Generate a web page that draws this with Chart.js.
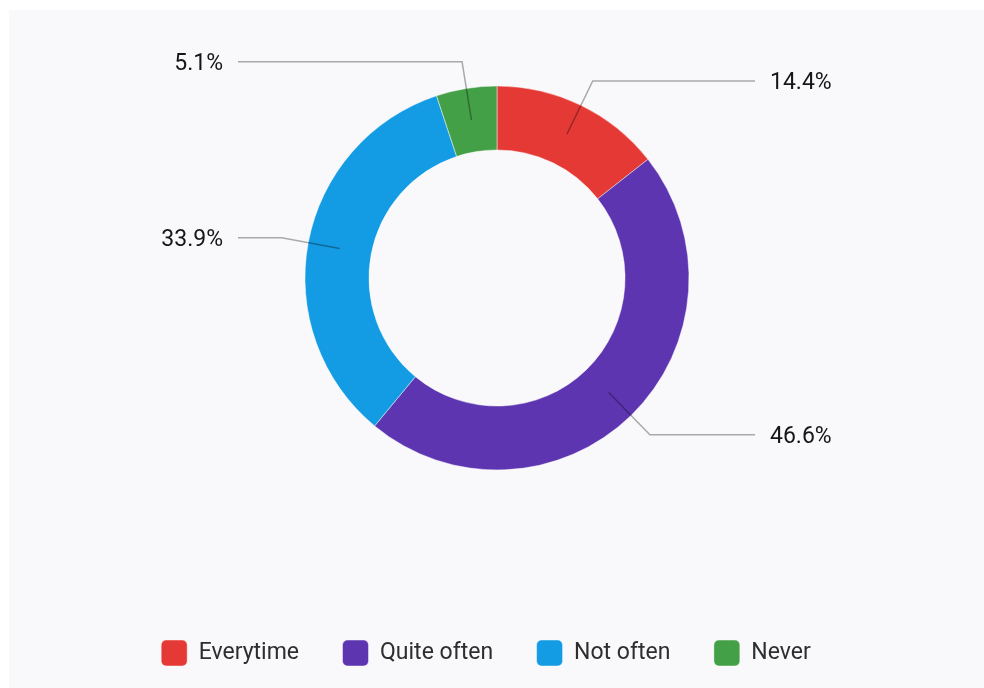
<!DOCTYPE html>
<html>
<head>
<meta charset="utf-8">
<script src="https://cdn.jsdelivr.net/npm/chart.js@4.4.1/dist/chart.umd.min.js"></script>
<style>
  html, body { margin: 0; padding: 0; background: #ffffff; width: 984px; height: 688px; overflow: hidden; }
  #card { position: absolute; left: 9px; top: 10px; width: 975px; height: 678px; background: #f9f9fc; }
  #wrap { position: absolute; left: 0; top: 0; width: 984px; height: 688px; }
</style>
</head>
<body>
<div id="card"></div>
<div id="wrap"><canvas id="c" width="984" height="688"></canvas></div>
<script>
const categories = ['Everytime', 'Quite often', 'Not often', 'Never'];
const values = [14.4, 46.6, 33.9, 5.1];
const colors = ['#e53935', '#5e35b1', '#139be4', '#43a047'];

const total = values.reduce((a, b) => a + b, 0);
const pctLabels = values.map(v => (v / total * 100).toFixed(1) + '%');

const leaderPlugin = {
  id: 'leaders',
  afterDatasetsDraw(chart) {
    const ctx = chart.ctx;
    const meta = chart.getDatasetMeta(0);
    ctx.save();
    meta.data.forEach((arc, i) => {
      const p = arc.getProps(['x', 'y', 'startAngle', 'endAngle', 'innerRadius', 'outerRadius'], true);
      const mid = (p.startAngle + p.endAngle) / 2;
      const rIn = (p.innerRadius + p.outerRadius) / 2;
      const rOut = p.outerRadius + 27;
      const x1 = p.x + Math.cos(mid) * rIn, y1 = p.y + Math.sin(mid) * rIn;
      const x2 = p.x + Math.cos(mid) * rOut, y2 = p.y + Math.sin(mid) * rOut;
      const right = Math.cos(mid) >= 0;
      const x3 = p.x + (right ? 258 : -259);
      ctx.beginPath();
      ctx.moveTo(x1, y1);
      ctx.lineTo(x2, y2);
      ctx.lineTo(x3, y2);
      ctx.strokeStyle = 'rgba(0,0,0,0.32)';
      ctx.lineWidth = 1.5;
      ctx.stroke();
      ctx.font = '23px Roboto';
      ctx.fillStyle = '#161616';
      ctx.textBaseline = 'middle';
      ctx.textAlign = right ? 'left' : 'right';
      ctx.fillText(pctLabels[i], p.x + (right ? 273 : -274), y2 + 2.5);
    });
    ctx.restore();
  }
};

const legendShift = {
  id: 'legendShift',
  afterLayout(chart) {
    if (chart.legend) { chart.legend.left -= 11; chart.legend.right -= 11; }
  }
};

function draw() {
  new Chart(document.getElementById('c'), {
    type: 'doughnut',
    data: {
      labels: categories,
      datasets: [{
        data: values,
        backgroundColor: colors,
        borderColor: 'rgba(255,255,255,0.45)',
        borderWidth: 1,
        hoverOffset: 0
      }]
    },
    options: {
      responsive: false,
      animation: false,
      radius: 192,
      cutout: '66.7%',
      layout: { padding: { left: 10, right: 0, top: 10, bottom: 12 } },
      plugins: {
        tooltip: { enabled: false },
        legend: {
          position: 'bottom',
          title: { display: true, text: '', padding: { top: 38.5, bottom: 0 }, font: { size: 10, lineHeight: 1.2 } },
          labels: {
            boxWidth: 26,
            boxHeight: 26,
            useBorderRadius: true,
            borderRadius: 5,
            padding: 43.5,
            color: '#2e2e2e',
            font: { family: 'Roboto', size: 23 }
          }
        }
      }
    },
    plugins: [leaderPlugin, legendShift]
  });
}

if (document.fonts && document.fonts.load) {
  document.fonts.load('23px Roboto').then(draw, draw);
} else { draw(); }
</script>
</body>
</html>
